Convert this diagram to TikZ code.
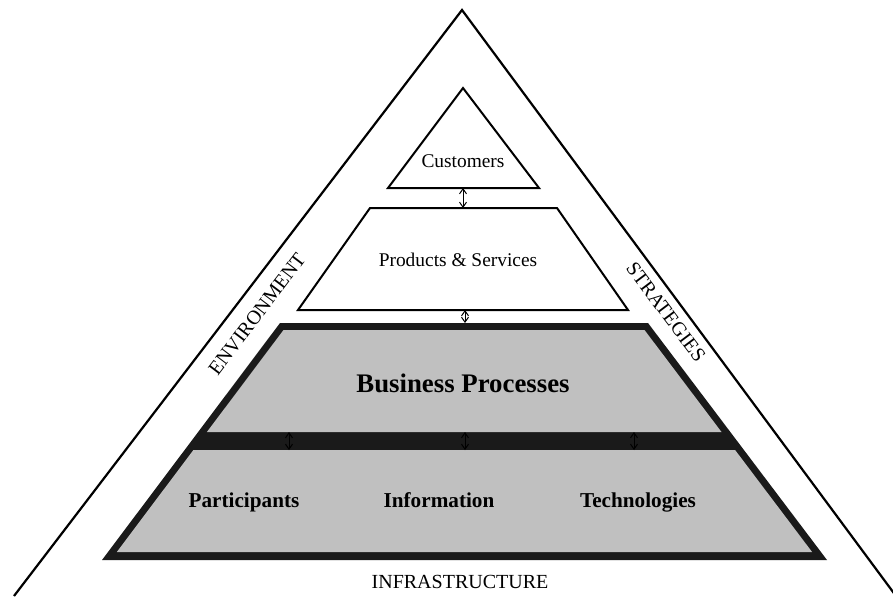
\documentclass[tikz,border=0pt]{standalone}
\usepackage{fontspec}
\setmainfont{Liberation Serif}
\usetikzlibrary{arrows.meta}
\definecolor{layergray}{RGB}{192,192,192}
\definecolor{bandblack}{RGB}{26,26,26}

\begin{document}
\begin{tikzpicture}[x=.5pt,y=-.5pt,
  layer/.style={draw,line width=1pt,fill=white},
  small/.style={font=\fontsize{9.7}{11}\selectfont},
  big/.style={font=\fontsize{13.4}{15}\selectfont\bfseries},
  part/.style={font=\fontsize{10.6}{12}\selectfont\bfseries,text height=1.6ex,text depth=.45ex},
  side/.style={font=\fontsize{10}{12}\selectfont},
  link/.style={{Straight Barb[length=2.5pt,width=3.5pt]}-{Straight Barb[length=2.5pt,width=3.5pt]},line width=.5pt}]
\useasboundingbox (0,0) rectangle (893,596);
\coordinate (apex) at (462,10);
\coordinate (baseL) at (14,596);
\coordinate (baseR) at (896,596);
\draw[line width=1.1pt,line join=miter] (baseL) -- (apex) -- (baseR);

\draw[layer] (463,88) -- (539,188) -- (388,188) -- cycle;
\draw[layer] (370,208) -- (557,208) -- (628,310) -- (298,310) -- cycle;
\fill[bandblack] (280,323) -- (648,323) -- (827,560) -- (102,560) -- cycle;
\fill[layergray] (283.5,330) -- (644.5,330) -- (721.5,432) -- (206.9,432) -- cycle;
\fill[layergray] (193.4,450) -- (735.1,450) -- (812.1,552) -- (116.8,552) -- cycle;

\coordinate (custB) at (463,188);
\coordinate (prodT) at (463,208);
\coordinate (prodB) at (465,310);
\coordinate (busT) at (465,323);
\coordinate (bandL1) at (289,432);
\coordinate (bandL2) at (289,450);
\coordinate (bandM1) at (465,432);
\coordinate (bandM2) at (465,450);
\coordinate (bandR1) at (634,432);
\coordinate (bandR2) at (634,450);

\draw[link] (custB) -- (prodT);
\draw[link] (prodB) -- (busT);
\draw[link] (bandL1) -- (bandL2);
\draw[link] (bandM1) -- (bandM2);
\draw[link] (bandR1) -- (bandR2);

\node[small] (cust) at (463,161) {Customers};
\node[small] (prod) at (458,260) {Products \& Services};
\node[big] (bus) at (463,383) {Business Processes};
\node[part] (partic) at (244,502) {Participants};
\node[part] (info) at (439,502) {Information};
\node[part] (tech) at (638,502) {Technologies};
\node[side,rotate=52.8] (env) at (257,314) {ENVIRONMENT};
\node[side,rotate=-53] (strat) at (666,312) {STRATEGIES};
\node[side] (infra) at (460,582) {INFRASTRUCTURE};
\end{tikzpicture}
\end{document}
